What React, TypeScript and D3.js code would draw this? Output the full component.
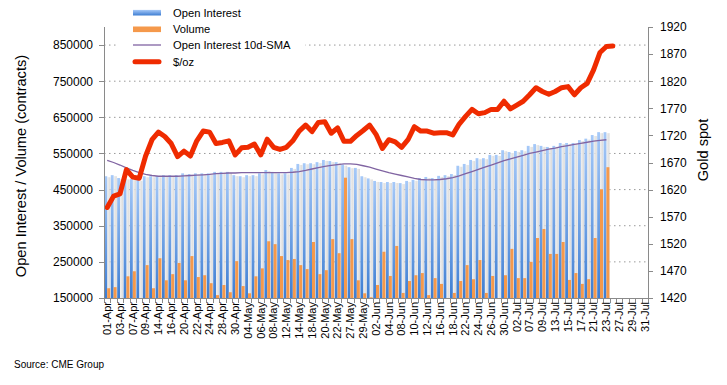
import React, { useEffect, useRef } from "react";
import * as d3 from "d3";

// trading days Apr-Jul 2020 (category axis)
const dates = [
  "01-Apr", "02-Apr", "03-Apr", "06-Apr", "07-Apr", "08-Apr", "09-Apr", "13-Apr", "14-Apr", "15-Apr",
  "16-Apr", "17-Apr", "20-Apr", "21-Apr", "22-Apr", "23-Apr", "24-Apr", "27-Apr", "28-Apr", "29-Apr",
  "30-Apr", "01-May", "04-May", "05-May", "06-May", "07-May", "08-May", "11-May", "12-May", "13-May",
  "14-May", "15-May", "18-May", "19-May", "20-May", "21-May", "22-May", "26-May", "27-May", "28-May",
  "29-May", "01-Jun", "02-Jun", "03-Jun", "04-Jun", "05-Jun", "08-Jun", "09-Jun", "10-Jun", "11-Jun",
  "12-Jun", "15-Jun", "16-Jun", "17-Jun", "18-Jun", "19-Jun", "22-Jun", "23-Jun", "24-Jun", "25-Jun",
  "26-Jun", "29-Jun", "30-Jun", "01-Jul", "02-Jul", "06-Jul", "07-Jul", "08-Jul", "09-Jul", "10-Jul",
  "13-Jul", "14-Jul", "15-Jul", "16-Jul", "17-Jul", "20-Jul", "21-Jul", "22-Jul", "23-Jul", "24-Jul",
  "27-Jul", "28-Jul", "29-Jul", "30-Jul", "31-Jul",
];

// contracts, thousands
const openInterest = [
  487, 490, 482, 481, 479, 477, 487, 487, 487, 490,
  490, 490, 495, 493, 495, 495, 495, 499, 499, 499,
  490, 487, 490, 490, 495, 504, 499, 495, 495, 510,
  521, 523, 523, 526, 532, 529, 526, 519, 512, 510,
  487, 481, 474, 471, 471, 471, 468, 474, 477, 482,
  485, 482, 488, 490, 493, 516, 521, 532, 537, 537,
  546, 546, 559, 554, 557, 559, 571, 576, 571, 568,
  571, 579, 579, 579, 587, 591, 601, 609, 609,
];

const volume = [
  177, 180, 140, 210, 224, 140, 241, 177, 260, 199,
  216, 247, 199, 266, 208, 213, 191, 158, 186, 166,
  252, 183, 163, 210, 232, 307, 299, 266, 255, 258,
  241, 230, 305, 216, 227, 313, 274, 483, 313, 199,
  163, 152, 186, 278, 211, 294, 164, 197, 213, 219,
  158, 205, 189, 140, 164, 197, 241, 202, 255, 164,
  211, 140, 213, 286, 205, 205, 250, 316, 341, 272,
  272, 305, 200, 219, 189, 202, 316, 451, 512,
];

const oiSma = [
  531, 525, 518, 510, 503, 497, 492, 489, 487, 487,
  487, 487, 488, 489, 490, 491, 492, 494, 495, 496,
  496, 497, 497, 497, 497, 497, 497, 497, 497, 498,
  500, 503, 507, 511, 514, 517, 519, 521, 521, 520,
  516, 512, 507, 502, 497, 493, 489, 485, 481, 478,
  477, 477, 478, 480, 483, 488, 494, 500, 506, 512,
  518, 524, 530, 535, 540, 545, 550, 554, 558, 562,
  565, 569, 572, 575, 578, 581, 584, 586, 588,
];

// $/oz
const goldSpot = [
  1587, 1608, 1612, 1657, 1643, 1641, 1682, 1712, 1726, 1718,
  1705, 1681, 1691, 1682, 1710, 1728, 1726, 1705, 1707, 1710,
  1684, 1697, 1698, 1704, 1684, 1713, 1698, 1694, 1698, 1710,
  1728, 1739, 1727, 1744, 1745, 1724, 1734, 1709, 1709, 1720,
  1729, 1739, 1722, 1696, 1712, 1708, 1698, 1712, 1736, 1728,
  1728, 1724, 1725, 1725, 1721, 1741, 1755, 1768, 1760, 1762,
  1768, 1768, 1783, 1769, 1776, 1783, 1795, 1808, 1801, 1796,
  1801, 1808, 1810, 1795, 1808, 1816, 1841, 1873, 1884, 1885,
];

const leftTicks = [150000, 250000, 350000, 450000, 550000, 650000, 750000, 850000];
const rightTicks = [1420, 1470, 1520, 1570, 1620, 1670, 1720, 1770, 1820, 1870, 1920];

const FONT = "'Liberation Sans', Arial, sans-serif";

export default function App() {
  const ref = useRef<SVGSVGElement>(null);

  useEffect(() => {
    const svg = d3.select(ref.current);
    svg.selectAll("*").remove();

    const left = 104, right = 648, top = 27, bottom = 298;

    const x = d3.scaleBand<number>().domain(d3.range(dates.length)).range([left, right]);
    const y = d3.scaleLinear().domain([150000, 900000]).range([bottom, top]);
    const y2 = d3.scaleLinear().domain([1420, 1920]).range([bottom, top]);
    const bw = x.bandwidth();
    const half = bw / 2;

    const defs = svg.append("defs");
    const oiGrad = defs.append("linearGradient").attr("id", "oiGrad")
      .attr("x1", 0).attr("y1", 0).attr("x2", 0).attr("y2", 1);
    oiGrad.append("stop").attr("offset", "0%").attr("stop-color", "#a6c9f8");
    oiGrad.append("stop").attr("offset", "100%").attr("stop-color", "#3d7dd2");
    const shGrad = defs.append("linearGradient").attr("id", "shGrad")
      .attr("x1", 0).attr("y1", 0).attr("x2", 1).attr("y2", 0);
    shGrad.append("stop").attr("offset", "0%").attr("stop-color", "#efefef");
    shGrad.append("stop").attr("offset", "100%").attr("stop-color", "#d4d4d4");

    // gridlines
    svg.append("g").selectAll("line")
      .data(leftTicks.slice(1))
      .join("line")
      .attr("x1", left).attr("x2", right - 2)
      .attr("y1", d => y(d)).attr("y2", d => y(d))
      .attr("stroke", "#999").attr("stroke-width", 1)
      .attr("stroke-dasharray", "1.5,3.5");

    const bars = svg.append("g");
    // shadow column behind each open interest bar
    bars.selectAll(".shadow")
      .data(openInterest)
      .join("rect")
      .attr("class", "shadow")
      .attr("x", (d, i) => x(i)! + half)
      .attr("y", d => y(d * 1000) + 1)
      .attr("width", half)
      .attr("height", d => bottom - y(d * 1000) - 1)
      .attr("fill", "url(#shGrad)")
      .attr("opacity", 0.85);

    bars.selectAll(".oi")
      .data(openInterest)
      .join("rect")
      .attr("class", "oi")
      .attr("x", (d, i) => x(i)! + 0.4)
      .attr("y", d => y(d * 1000))
      .attr("width", half - 0.4)
      .attr("height", d => bottom - y(d * 1000))
      .attr("fill", "url(#oiGrad)");

    bars.selectAll(".vol")
      .data(volume)
      .join("rect")
      .attr("class", "vol")
      .attr("x", (d, i) => x(i)! + half)
      .attr("y", d => y(Math.max(d * 1000, 150000)))
      .attr("width", half - 0.2)
      .attr("height", d => bottom - y(Math.max(d * 1000, 150000)))
      .attr("fill", "#f5994b");

    const cx = (i: number) => x(i)! + half;

    svg.append("path")
      .datum(oiSma)
      .attr("d", d3.line<number>().x((d, i) => cx(i)).y(d => y(d * 1000)))
      .attr("fill", "none")
      .attr("stroke", "#8064a2")
      .attr("stroke-width", 1.3);

    svg.append("path")
      .datum(goldSpot)
      .attr("d", d3.line<number>().x((d, i) => cx(i)).y(d => y2(d)))
      .attr("fill", "none")
      .attr("stroke", "#ef2b00")
      .attr("stroke-width", 5)
      .attr("stroke-linejoin", "round")
      .attr("stroke-linecap", "round");

    // axes
    const axisColor = "#8a8a8a";
    const axes = svg.append("g").attr("stroke", axisColor).attr("stroke-width", 1);
    axes.append("line").attr("x1", left + 0.5).attr("x2", left + 0.5).attr("y1", top).attr("y2", bottom);
    axes.append("line").attr("x1", right + 0.5).attr("x2", right + 0.5).attr("y1", top).attr("y2", bottom);
    axes.append("line").attr("x1", left).attr("x2", right + 0.5).attr("y1", bottom + 0.5).attr("y2", bottom + 0.5);

    axes.selectAll(".lt").data(leftTicks).join("line")
      .attr("x1", left - 5).attr("x2", left)
      .attr("y1", d => Math.round(y(d)) + 0.5).attr("y2", d => Math.round(y(d)) + 0.5);
    axes.selectAll(".rt").data(rightTicks).join("line")
      .attr("x1", right).attr("x2", right + 5)
      .attr("y1", d => Math.round(y2(d)) + 0.5).attr("y2", d => Math.round(y2(d)) + 0.5);
    axes.selectAll(".xt").data(d3.range(dates.length + 1)).join("line")
      .attr("x1", i => Math.round(left + i * bw) + 0.5).attr("x2", i => Math.round(left + i * bw) + 0.5)
      .attr("y1", bottom).attr("y2", bottom + 5);

    const text = svg.append("g").attr("font-family", FONT).attr("fill", "#000");

    text.selectAll(".ll").data(leftTicks).join("text")
      .attr("x", 93).attr("y", d => y(d)).attr("dy", "0.36em")
      .attr("text-anchor", "end").attr("font-size", 12)
      .text(d => String(d));

    text.selectAll(".rl").data(rightTicks).join("text")
      .attr("x", 660).attr("y", d => y2(d)).attr("dy", "0.36em")
      .attr("text-anchor", "start").attr("font-size", 12)
      .text(d => String(d));

    text.selectAll(".xl").data(d3.range(0, dates.length, 2)).join("text")
      .attr("transform", i => `translate(${cx(i)},${bottom + 4}) rotate(-90)`)
      .attr("dy", "0.35em")
      .attr("text-anchor", "end").attr("font-size", 11)
      .text(i => dates[i]);

    text.append("text")
      .attr("transform", "translate(21,166) rotate(-90)")
      .attr("dy", "0.35em").attr("text-anchor", "middle").attr("font-size", 14.6)
      .text("Open Interest / Volume (contracts)");

    text.append("text")
      .attr("transform", "translate(703,150) rotate(-90)")
      .attr("dy", "0.35em").attr("text-anchor", "middle").attr("font-size", 14.6)
      .text("Gold spot");

    text.append("text")
      .attr("x", 14).attr("y", 368).attr("font-size", 10)
      .text("Source: CME Group");

    // legend
    const lg = svg.append("g");
    lg.append("rect").attr("x", 119).attr("y", 0).attr("width", 186).attr("height", 70).attr("fill", "#fff");
    const items = [
      { name: "Open Interest", kind: "oi" },
      { name: "Volume", kind: "vol" },
      { name: "Open Interest 10d-SMA", kind: "sma" },
      { name: "$/oz", kind: "gold" },
    ];
    const rowY = [12.7, 29.3, 45, 61.7];
    items.forEach((it, k) => {
      const cy = rowY[k];
      if (it.kind === "oi") {
        lg.append("rect").attr("x", 133).attr("y", cy - 2.8).attr("width", 28).attr("height", 5.6).attr("fill", "url(#oiGrad)");
      } else if (it.kind === "vol") {
        lg.append("rect").attr("x", 133).attr("y", cy - 2.8).attr("width", 28).attr("height", 5.6).attr("fill", "#f5994b");
      } else if (it.kind === "sma") {
        lg.append("line").attr("x1", 133).attr("x2", 161).attr("y1", cy).attr("y2", cy)
          .attr("stroke", "#8064a2").attr("stroke-width", 1.3);
      } else {
        lg.append("line").attr("x1", 135).attr("x2", 159).attr("y1", cy).attr("y2", cy)
          .attr("stroke", "#ef2b00").attr("stroke-width", 5).attr("stroke-linecap", "round");
      }
      lg.append("text")
        .attr("x", 173).attr("y", cy).attr("dy", "0.36em")
        .attr("font-family", FONT).attr("font-size", 11.2)
        .text(it.name);
    });
  }, []);

  return (
    <svg ref={ref} width={727} height={385}
      style={{ position: "absolute", left: 0, top: 0, background: "#fff" }} />
  );
}
